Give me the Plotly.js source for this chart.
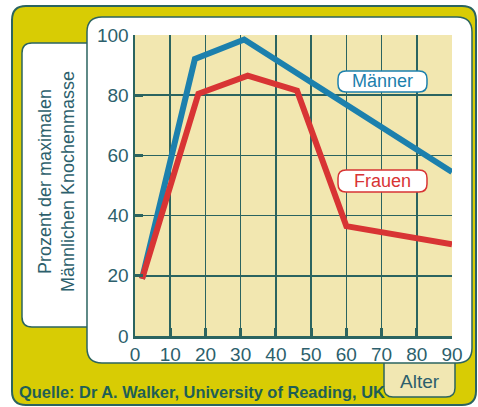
<!DOCTYPE html>
<html><head><meta charset="utf-8">
<script src="https://cdn.plot.ly/plotly-3.0.1.min.js"></script>
<style>html,body{margin:0;padding:0;background:#fff}#c{width:478px;height:407px}</style>
</head><body><div id="c"></div>
<script>
// Data
const alterMaenner = [2, 17, 31, 90];
const wertMaenner  = [19, 92, 98.5, 54.5];
const alterFrauen  = [2, 18, 32, 46, 60, 90];
const wertFrauen   = [19, 80.5, 86.5, 81.5, 36.5, 30.5];
const xTicks = [0, 10, 20, 30, 40, 50, 60, 70, 80, 90];
const yTicks = [0, 20, 40, 60, 80, 100];
const seriesNames = ["Männer", "Frauen"];

const W = 478, H = 407, ML = 135, MR = 26, MT = 35, MB = 71;
const PW = W - ML - MR, PH = H - MT - MB;
const fx = p => (p - ML) / PW;
const fy = p => (H - MB - p) / PH;
function pt(x, y) { return fx(x).toFixed(5) + ',' + fy(y).toFixed(5); }
function rr(x0, y0, x1, y1, r, c) { // c: [tl,tr,br,bl]
  c = c || [1,1,1,1];
  let s = '';
  s += 'M' + pt(x0 + (c[0]?r:0), y0);
  s += ' L' + pt(x1 - (c[1]?r:0), y0);
  if (c[1]) s += ' Q' + pt(x1, y0) + ' ' + pt(x1, y0 + r);
  s += ' L' + pt(x1, y1 - (c[2]?r:0));
  if (c[2]) s += ' Q' + pt(x1, y1) + ' ' + pt(x1 - r, y1);
  s += ' L' + pt(x0 + (c[3]?r:0), y1);
  if (c[3]) s += ' Q' + pt(x0, y1) + ' ' + pt(x0, y1 - r);
  s += ' L' + pt(x0, y0 + (c[0]?r:0));
  if (c[0]) s += ' Q' + pt(x0, y0) + ' ' + pt(x0 + r, y0);
  return s + ' Z';
}
const teal = '#2b6460';
const txt = '#2d5f6c';
const blue = '#1c80ad';
const red = '#d83434';
const font = 'Liberation Sans, Arial, sans-serif';

const shapes = [
  {type:'path', xref:'paper', yref:'paper', layer:'below', path: rr(12, 6, 476, 405, 14), fillcolor:'#d8cc04', line:{color:teal, width:2}},
  {type:'path', xref:'paper', yref:'paper', layer:'below', path: rr(22, 43, 100, 327, 10), fillcolor:'#ffffff', line:{color:teal, width:1.5}},
  {type:'path', xref:'paper', yref:'paper', layer:'below', path: rr(384, 355, 455, 397, 9, [0,0,1,1]), fillcolor:'#f1e7b2', line:{color:teal, width:1.5}},
  {type:'path', xref:'paper', yref:'paper', layer:'below', path: rr(87, 17, 472, 363, 15), fillcolor:'#ffffff', line:{color:teal, width:1.5}},
  {type:'rect', xref:'paper', yref:'paper', layer:'below', x0:0, x1:1, y0:0, y1:1, fillcolor:'#f2e7b0', line:{width:0}},
  {type:'path', xref:'paper', yref:'paper', layer:'above', path: rr(338, 71, 427, 92, 8), fillcolor:'#ffffff', line:{color:blue, width:1.5}},
  {type:'path', xref:'paper', yref:'paper', layer:'above', path: rr(338, 170, 427, 192, 8), fillcolor:'#ffffff', line:{color:red, width:1.5}}
];

const annotations = [
  {xref:'paper', yref:'paper', x:fx(56), y:fy(182), text:'Prozent der maximalen<br>Männlichen Knochenmasse', textangle:-90, showarrow:false, font:{family:font, size:18, color:txt}, xanchor:'center', yanchor:'middle'},
  {xref:'paper', yref:'paper', x:fx(17), y:fy(392), text:'<b>Quelle: Dr A. Walker, University of Reading, UK</b>', showarrow:false, font:{family:font, size:16.4, color:'#1f5f55'}, xanchor:'left', yanchor:'middle'},
  {xref:'paper', yref:'paper', x:fx(420), y:fy(381), text:'Alter', showarrow:false, font:{family:font, size:19, color:txt}, xanchor:'center', yanchor:'middle'},
  {xref:'paper', yref:'paper', x:fx(382.5), y:fy(81.5), text:seriesNames[0], showarrow:false, font:{family:font, size:18, color:blue}, xanchor:'center', yanchor:'middle'},
  {xref:'paper', yref:'paper', x:fx(382.5), y:fy(181), text:seriesNames[1], showarrow:false, font:{family:font, size:18, color:red}, xanchor:'center', yanchor:'middle'}
];

const data = [
  {x: alterMaenner, y: wertMaenner, name: seriesNames[0], mode:'lines', line:{color:blue, width:6}},
  {x: alterFrauen, y: wertFrauen, name: seriesNames[1], mode:'lines', line:{color:red, width:6}}
];

const layout = {
  width: W, height: H,
  margin: {l: ML, r: MR, t: MT, b: MB, pad: 0},
  paper_bgcolor: '#ffffff',
  plot_bgcolor: 'rgba(0,0,0,0)',
  showlegend: false,
  xaxis: {range:[0,90], tickvals:xTicks, ticktext:xTicks.map(String), showgrid:true, gridcolor:teal, gridwidth:1.5,
          zeroline:false, showline:true, linecolor:teal, linewidth:2.5, ticks:'inside', ticklen:8, tickwidth:3, tickcolor:teal,
          tickfont:{family:font, size:19, color:txt}, fixedrange:true},
  yaxis: {range:[0,100], tickvals:yTicks, ticktext:yTicks.map(String), showgrid:true, gridcolor:teal, gridwidth:1.5,
          zeroline:false, showline:true, linecolor:teal, linewidth:2.5, ticks:'inside', ticklen:8, tickwidth:3, tickcolor:teal,
          tickfont:{family:font, size:19, color:txt}, fixedrange:true},
  shapes: shapes,
  annotations: annotations
};
Plotly.newPlot('c', data, layout, {displayModeBar:false, staticPlot:true});
</script></body></html>
